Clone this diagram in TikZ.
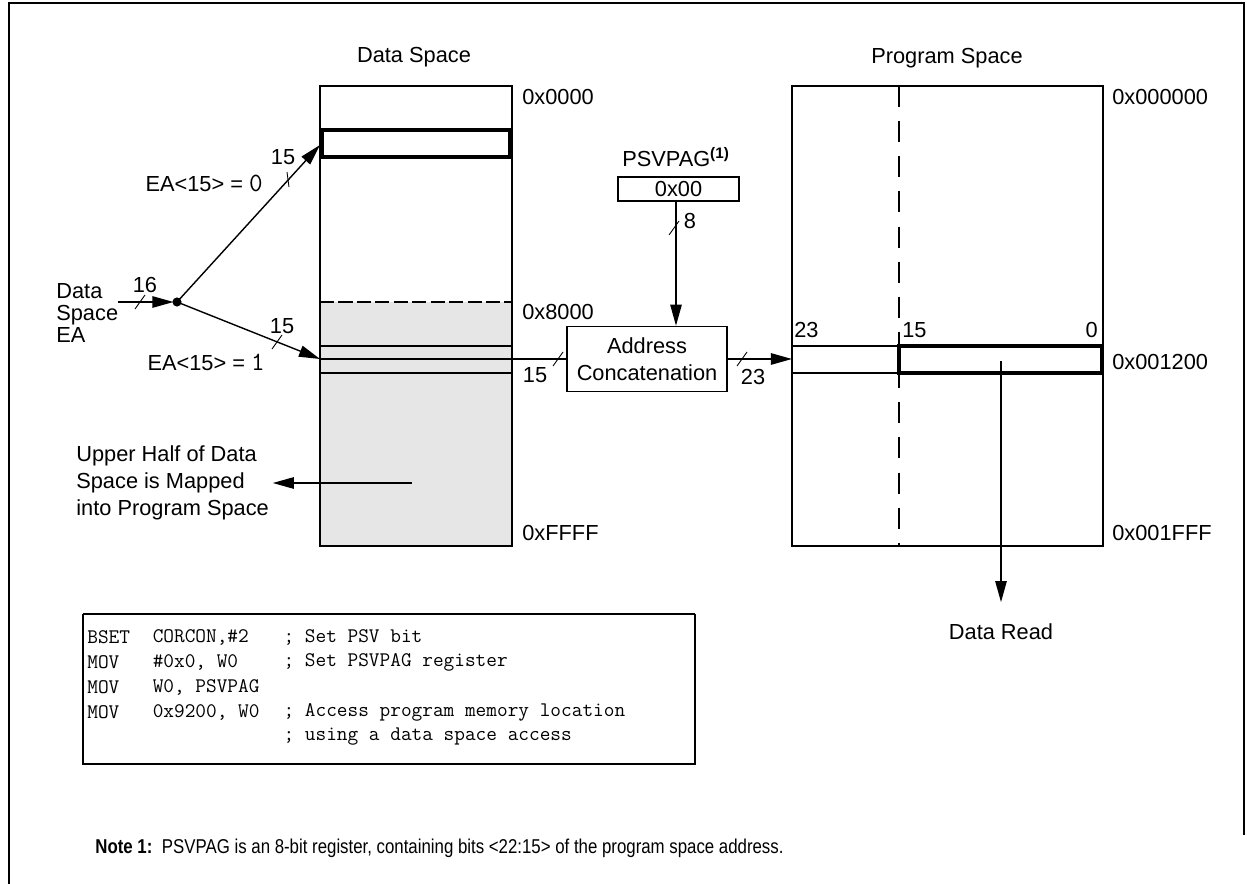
\documentclass[tikz,border=0pt]{standalone}
\usepackage{fontspec}
\usepackage{graphicx}
\setmainfont{Liberation Sans}
\usetikzlibrary{arrows.meta,positioning}
\definecolor{HalfGray}{HTML}{E6E6E6}

\newcommand\busmark[1]{\draw[bus] #1 ++(-5,7) -- ++(10,-14);}
\newcommand\monobit[1]{{\ttfamily\fontsize{15}{15}\selectfont #1}}

\begin{document}
\begin{tikzpicture}[x=0.02cm,y=-0.02cm,
    lbl/.style={font=\fontsize{12.4}{15.3}\selectfont,inner sep=0pt},
    wire/.style={line width=0.8pt},
    arr/.style={wire,-{Triangle[length=12pt,width=6.5pt]}},
    bus/.style={line width=0.5pt},
    memline/.style={line width=0.9pt},
    hilite/.style={line width=2pt},
    codeln/.style={font=\ttfamily\fontsize{11.8}{13}\selectfont,inner sep=0pt,anchor=west}]
  \useasboundingbox (0,0) rectangle (1247,884);

  % outer frame
  \draw[line width=1.1pt] (9,884) -- (9,3) -- (1244,3) -- (1244,835);

  % data space
  \fill[HalfGray] (320,302) rectangle (512,546);
  \draw[memline] (320,86) rectangle (512,546);
  \draw[memline,dash pattern=on 8pt off 2.5pt] (320,302) -- (512,302);
  \draw[memline] (320,346) -- (512,346) (320,373) -- (512,373);
  \draw[hilite] (322,130) rectangle (510,157);
  \node[lbl] (dsTitle) at (414,57) {Data Space};
  \node[lbl,anchor=west] (ds0) at (522,97) {0x0000};
  \node[lbl,anchor=west] (ds8) at (522,312) {0x8000};
  \node[lbl,anchor=west] (dsF) at (522,533) {0xFFFF};
  \coordinate (dsTop) at (320,145);
  \coordinate (dsRow) at (320,359);

  % effective address split
  \node[lbl,align=left,anchor=west,font=\fontsize{12.4}{12.4}\selectfont] (ea) at (56,313) {Data\\Space\\EA};
  \coordinate (eaIn) at (118,302);
  \coordinate (dot) at (177,302);
  \draw[arr,shorten >=2pt] (eaIn) -- (dot);
  \draw[arr] (dot) -- (dsTop);
  \draw[arr] (dot) -- (dsRow);
  \fill (dot) circle[radius=2.6pt];
  \busmark{(140,302)}
  \draw[bus] (287,172) -- (289,187);
  \busmark{(277,342)}
  \node[lbl] (w16) at (145,285) {16};
  \node[lbl] (w15a) at (283,157) {15};
  \node[lbl] (w15b) at (282,326) {15};
  \node[lbl,anchor=east] (ea0) at (263,183) {EA<15> = \monobit{0}};
  \node[lbl,anchor=east] (ea1) at (265,362) {EA<15> = \monobit{1}};

  % upper half note
  \node[lbl,align=left,anchor=west] (upper) at (76,483) {Upper Half of Data\\Space is Mapped\\into Program Space};
  \coordinate (upFrom) at (412,483);
  \draw[arr,shorten >=2pt] (upFrom) -- (upper.east);

  % PSVPAG and concatenation
  \node[lbl] (pagTitle) at (676,157) {PSVPAG\textsuperscript{\textbf{(1)}}};
  \node[lbl,draw,memline,minimum width=2.42cm,minimum height=0.48cm] (pag) at (678.5,189) {0x00};
  \node[lbl,draw,memline,align=center,minimum width=3.2cm,minimum height=1.3cm] (cat) at (647,359) {Address\\Concatenation};
  \draw[arr] (pag.south -| 676,0) -- (cat.north -| 676,0);
  \busmark{(674,228)}
  \node[lbl] (w8) at (690,221) {8};
  \draw[wire] (dsRow) -- (cat.west);
  \busmark{(558,359)}
  \node[lbl] (w15c) at (535,375) {15};

  % program space
  \draw[memline] (792,86) rectangle (1103,546);
  \draw[memline,dash pattern=on 12pt off 8pt] (899,86) -- (899,546);
  \draw[memline] (792,346) -- (899,346) (792,373) -- (899,373);
  \draw[hilite] (899,346) rectangle (1102,373);
  \node[lbl] (psTitle) at (947,58) {Program Space};
  \node[lbl,anchor=west] (ps0) at (1112,97) {0x000000};
  \node[lbl,anchor=west] (ps12) at (1112,362) {0x001200};
  \node[lbl,anchor=west] (psF) at (1112,533) {0x001FFF};
  \node[lbl,anchor=west] (b23) at (794,330) {23};
  \node[lbl,anchor=west] (b15) at (902,330) {15};
  \node[lbl,anchor=east] (b0) at (1098,330) {0};
  \coordinate (psRow) at (792,359);
  \draw[arr] (cat.east) -- (psRow);
  \busmark{(742,359)}
  \node[lbl] (w23) at (753,377) {23};

  % data read
  \coordinate (rdTop) at (1001,361);
  \node[lbl] (rd) at (1001,632) {Data Read};
  \draw[arr,shorten >=17pt] (rdTop) -- (rd.center);

  % code listing
  \draw[memline] (83,614) -- (83,764) -- (695,764) -- (695,614);
  \draw[line width=1.5pt] (83,614) -- (695,614);
  \foreach \op/\arg/\cmt [count=\i] in {
      BSET/{CORCON,\#2}/{; Set PSV bit},
      MOV/{\#0x0, W0}/{; Set PSVPAG register},
      MOV/{W0, PSVPAG}/{},
      MOV/{0x9200, W0}/{; Access program memory location},
      {}/{}/{; using a data space access}}{
    \node[codeln] (op\i) at (87,612+25*\i) {\op};
    \node[codeln] (arg\i) at (152.4,612+25*\i) {\arg};
    \node[codeln] (cmt\i) at (283.2,612+25*\i) {\cmt};
  }

  % footnote
  \node[anchor=west,inner sep=0pt,font=\fontsize{11.4}{13}\selectfont] (note) at (95,848)
    {\scalebox{0.84}[1]{\textbf{Note 1:}\hspace{6.5pt}PSVPAG is an 8-bit register, containing bits <22:15> of the program space address.}};
\end{tikzpicture}
\end{document}
